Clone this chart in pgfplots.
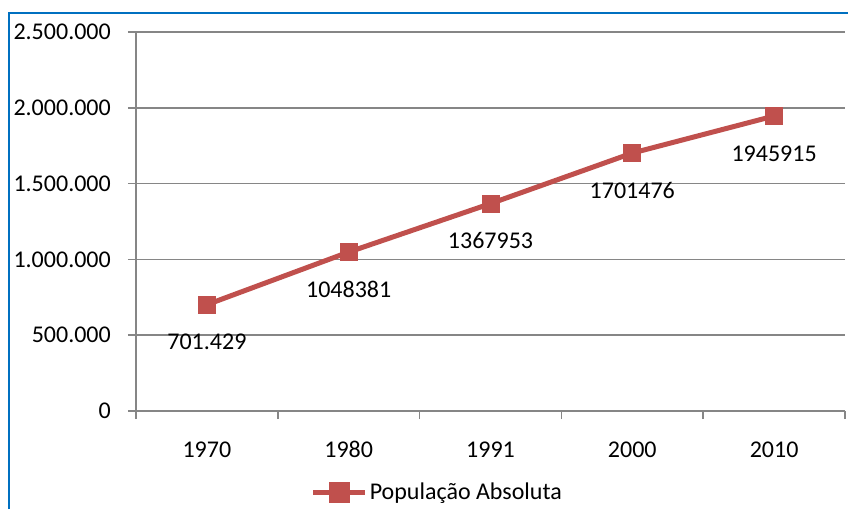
\documentclass[border=0pt]{standalone}
\usepackage{pgfplots}
\pgfplotsset{compat=1.18}
\usepackage{fontspec}
\setmainfont{Carlito}
\definecolor{serred}{HTML}{C0504D}
\definecolor{gridgray}{HTML}{868686}
\definecolor{frameblue}{HTML}{0070C0}
\begin{document}
\fontsize{24}{28}\selectfont
\begin{tikzpicture}
\begin{axis}[
  at={(0pt,0pt)}, anchor=south west,
  scale only axis, width=709pt, height=379pt,
  xmin=0.5, xmax=5.5, ymin=0, ymax=2500000,
  axis x line*=bottom, axis y line*=left,
  axis line style={gridgray, line width=1.5pt},
  xtick={1,2,3,4,5},
  xticklabels={1970,1980,1991,2000,2010},
  minor xtick={0.5,1.5,2.5,3.5,4.5,5.5},
  ytick={0,500000,1000000,1500000,2000000,2500000},
  scaled y ticks=false,
  yticklabel style={/pgf/number format/fixed, /pgf/number format/1000 sep={.}, /pgf/number format/assume math mode=true, xshift=-9pt},
  ymajorgrids,
  grid style={gridgray, line width=1.5pt},
  tick style={gridgray, line width=1.5pt},
  major tick length=8pt, minor tick length=8pt,
  xtick style={draw=none},
  minor x tick style={gridgray, line width=1.5pt, draw=gridgray},
  tick align=outside,
  xticklabel style={anchor=base, yshift=-38pt},
  ticklabel style={font=\fontsize{24}{28}\selectfont},
  legend style={at={(0.425,-0.216)}, anchor=center, draw=none, fill=none,
     font=\fontsize{24}{28}\selectfont},
  legend cell align=left,
  legend image code/.code={
     \draw[serred, line width=5pt] (-26pt,0) -- (26pt,0);
     \fill[serred] (-8pt,-8pt) rectangle (8pt,8pt);
  },
  clip=false,
]
\addplot[serred, line width=5pt, mark=square*, mark size=8.5pt,
  mark options={fill=serred, draw=serred, line width=0pt},
  nodes near coords, point meta=explicit symbolic,
  every node near coord/.append style={font=\fontsize{24}{28}\selectfont, text=black, anchor=base, yshift=-45pt}]
  table[meta=lab] {
x y lab
1 701429 701.429
2 1048381 1048381
3 1367953 1367953
4 1701476 1701476
5 1945915 1945915
};
\addlegendentry{População Absoluta}
\end{axis}
\pgfresetboundingbox
\useasboundingbox (-136pt,-98pt) rectangle (712pt,411pt);
\draw[frameblue, line width=2.5pt] (-127pt,-98pt) -- (-127pt,398pt) -- (712pt,398pt);
\end{tikzpicture}
\end{document}
